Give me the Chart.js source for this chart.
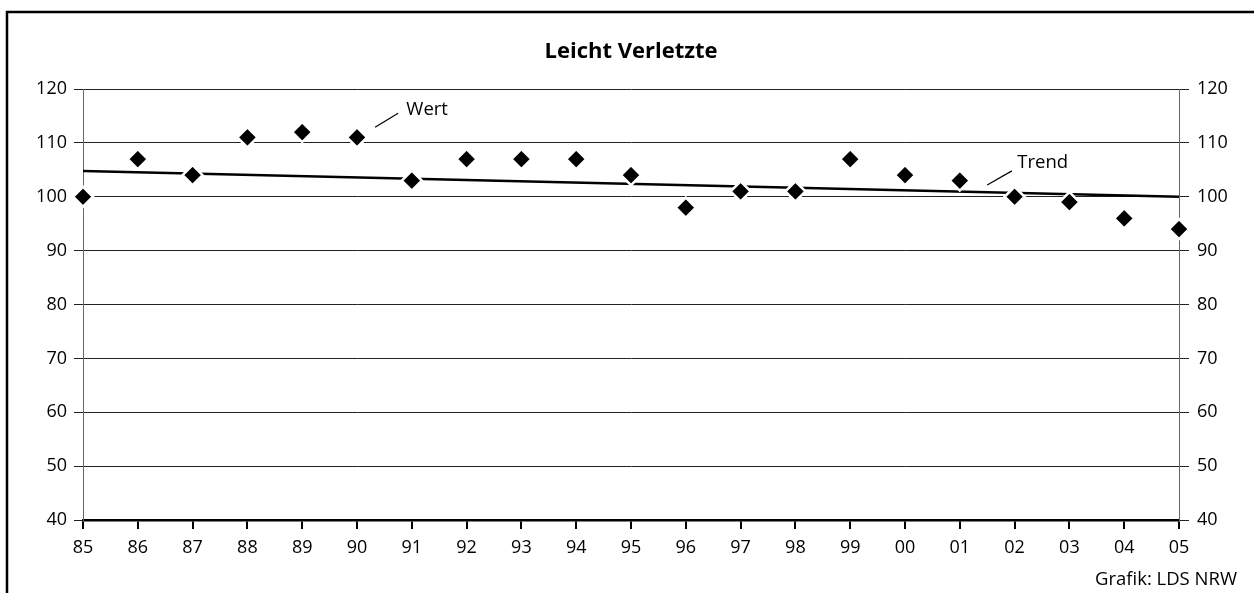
<!DOCTYPE html>
<html>
<head>
<meta charset="utf-8">
<script src="https://cdn.jsdelivr.net/npm/chart.js@4"></script>
<style>
  html, body { margin: 0; padding: 0; background: #fff; }
  #wrap { width: 1254px; height: 593px; }
</style>
</head>
<body>
<div id="wrap"><canvas id="myChart" width="1254" height="593"></canvas></div>
<script>
/* Datos */
const jahre = ['85','86','87','88','89','90','91','92','93','94','95','96','97','98','99','00','01','02','03','04','05']
const wert = [100,107,104,111,112,111,103,107,107,107,104,98,101,101,107,104,103,100,99,96,94]
const trend = [104.8,null,null,null,null,null,null,null,null,null,null,null,null,null,null,null,null,null,null,null,100.0]
const yMin = 40
const yMax = 120
const yStep = 10
const titel = 'Leicht Verletzte'
const quelle = 'Grafik: LDS NRW'
// Beschriftungen: [text, x0, y0, x1, y1, textX, textY] in Datenkoordinaten
const beschriftungen = [
  ['Wert', 5.33, 112.9, 5.75, 115.5, 5.9, 116.1],
  ['Trend', 16.5, 102.2, 16.95, 104.8, 17.05, 106.3]
]

const schrift = "'Open Sans', 'Noto Sans', sans-serif"

const extras = {
  id: 'extras',
  beforeDraw: (chart) => {
    const ctx = chart.ctx
    ctx.save()
    ctx.fillStyle = '#fff'
    ctx.fillRect(0, 0, chart.width, chart.height)
    ctx.strokeStyle = '#000'
    ctx.lineWidth = 2.5
    ctx.beginPath()
    ctx.moveTo(7, chart.height)
    ctx.lineTo(7, 12)
    ctx.lineTo(chart.width, 12)
    ctx.stroke()
    ctx.restore()
  },
  afterDatasetsDraw: (chart) => {
    const ctx = chart.ctx
    const x = chart.scales.x
    const y = chart.scales.y
    const area = chart.chartArea
    ctx.save()
    ctx.fillStyle = '#000'
    ctx.font = "bold 22px " + schrift
    ctx.textAlign = 'center'
    ctx.textBaseline = 'middle'
    ctx.fillText(titel, (area.left + area.right) / 2, 52)

    ctx.font = "18.5px " + schrift
    ctx.textAlign = 'right'
    ctx.fillText(quelle, 1237, 580)

    ctx.strokeStyle = '#000'
    ctx.lineWidth = 1.2
    ctx.textAlign = 'left'
    beschriftungen.forEach((b) => {
      ctx.beginPath()
      ctx.moveTo(x.getPixelForValue(b[1]), y.getPixelForValue(b[2]))
      ctx.lineTo(x.getPixelForValue(b[3]), y.getPixelForValue(b[4]))
      ctx.stroke()
      ctx.fillText(b[0], x.getPixelForValue(b[5]), y.getPixelForValue(b[6]))
    })
    ctx.restore()
  }
}

const tickFont = { family: schrift, size: 18 }

const config = {
  type: 'line',
  data: {
    labels: jahre,
    datasets: [
      {
        label: 'Wert',
        data: wert,
        showLine: false,
        pointStyle: 'rectRot',
        pointRadius: 10,
        pointBackgroundColor: '#000',
        pointBorderColor: '#fff',
        pointBorderWidth: 2.5,
        clip: false
      },
      {
        label: 'Trend',
        data: trend,
        spanGaps: true,
        borderColor: '#000',
        borderWidth: 2.5,
        pointRadius: 0,
        tension: 0
      }
    ]
  },
  options: {
    responsive: false,
    animation: false,
    events: [],
    layout: { padding: { top: 89, left: 0, right: 0, bottom: 0 } },
    plugins: {
      legend: { display: false },
      title: { display: false },
      tooltip: { enabled: false }
    },
    scales: {
      x: {
        type: 'category',
        offset: false,
        afterFit: (s) => { s.height = 73 },
        grid: { display: true, drawOnChartArea: false, drawTicks: true, tickLength: 9, color: '#000', lineWidth: 2 },
        border: { display: true, color: '#000', width: 2.5 },
        ticks: { color: '#000', font: tickFont, padding: 8, maxRotation: 0, autoSkip: false }
      },
      y: {
        position: 'left',
        min: yMin,
        max: yMax,
        afterFit: (s) => { s.width = 83 },
        grid: { color: '#222', lineWidth: 1, tickLength: 9 },
        border: { display: true, color: '#666', width: 1 },
        ticks: { stepSize: yStep, color: '#000', font: tickFont, padding: 7 }
      },
      y2: {
        position: 'right',
        min: yMin,
        max: yMax,
        afterFit: (s) => { s.width = 75 },
        grid: { drawOnChartArea: false, color: '#222', lineWidth: 1, tickLength: 10 },
        border: { display: true, color: '#666', width: 1 },
        ticks: { stepSize: yStep, color: '#000', font: tickFont, padding: 8 }
      }
    }
  },
  plugins: [extras]
}

const myChart = document.getElementById('myChart')
const currentChart = new Chart(myChart, config)
</script>
</body>
</html>
